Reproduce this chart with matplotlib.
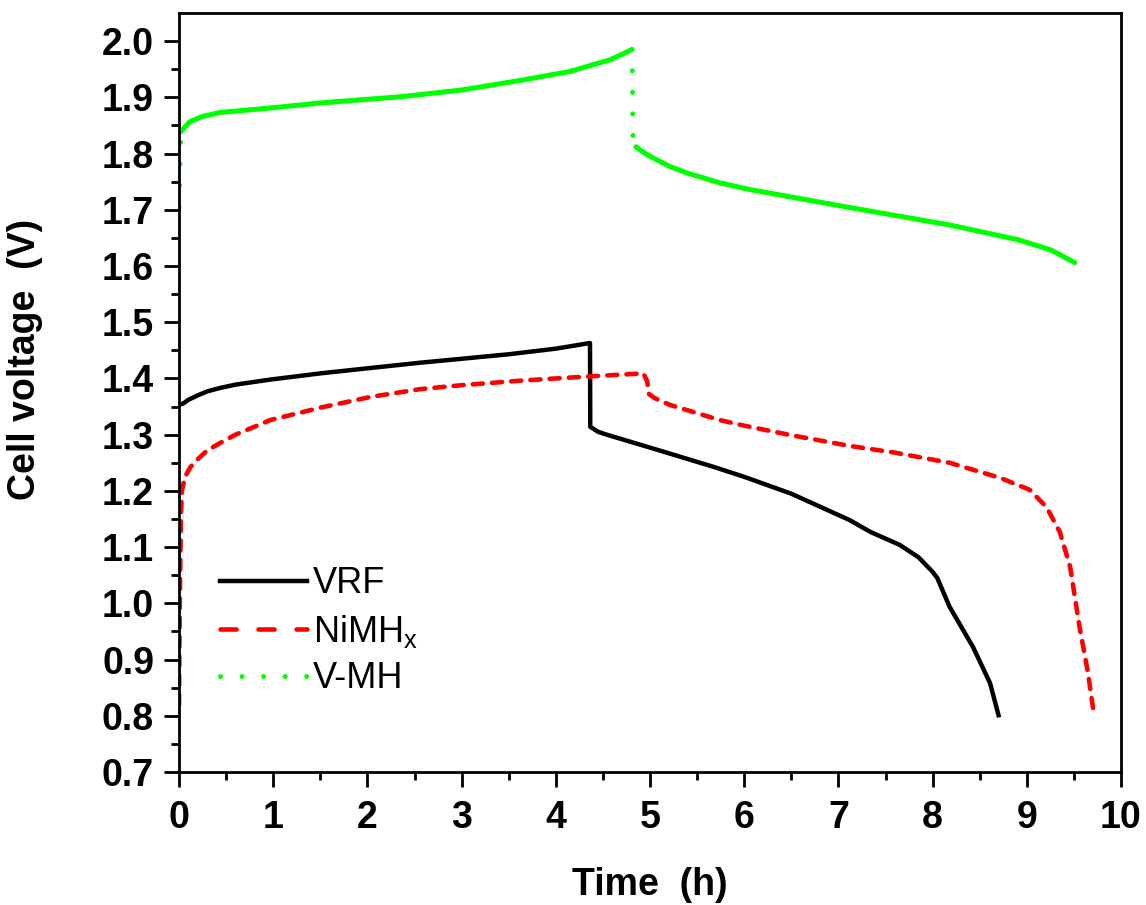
import matplotlib
matplotlib.use("Agg")
import matplotlib.pyplot as plt
from matplotlib.lines import Line2D
import numpy as np

plt.rcParams['font.family'] = ['Liberation Sans', 'DejaVu Sans']
plt.rcParams['mathtext.fontset'] = 'custom'
plt.rcParams['mathtext.rm'] = 'Liberation Sans'

# ---- data (time in h, voltage in V) ----
vrf_t = [0, 0.05, 0.1, 0.2, 0.3, 0.435, 0.6, 0.97, 1.5, 2.0, 2.56, 3.0, 3.5,
         4.0, 4.363, 4.366, 4.45, 4.54, 5.0, 5.67, 6.0, 6.5, 7.12, 7.34, 7.65,
         7.85, 8.0, 8.05, 8.18, 8.43, 8.61, 8.70]
vrf_v = [1.353, 1.356, 1.362, 1.370, 1.377, 1.383, 1.389, 1.398, 1.409, 1.418,
         1.428, 1.435, 1.443, 1.453, 1.463, 1.314, 1.305, 1.300, 1.277, 1.243,
         1.225, 1.195, 1.148, 1.127, 1.104, 1.082, 1.056, 1.045, 0.994, 0.922,
         0.858, 0.801]

nimh_t = [0, 0.008, 0.02, 0.03, 0.064, 0.12, 0.19, 0.3, 0.435, 0.6, 0.97, 1.5,
          2.03, 2.56, 3.0, 3.62, 4.0, 4.5, 4.93, 4.97, 4.99, 5.05, 5.21, 5.74,
          6.0, 6.5, 7.12, 7.6, 8.18, 8.72, 9.03, 9.21, 9.35, 9.46, 9.56, 9.65,
          9.71]
nimh_v = [0.82, 1.0, 1.15, 1.20, 1.225, 1.242, 1.255, 1.272, 1.285, 1.300,
          1.326, 1.348, 1.367, 1.381, 1.388, 1.396, 1.400, 1.405, 1.409, 1.395,
          1.372, 1.365, 1.353, 1.326, 1.316, 1.299, 1.280, 1.268, 1.250, 1.223,
          1.202, 1.171, 1.127, 1.065, 0.958, 0.876, 0.805]

vmh_t = [0, 0.02, 0.117, 0.25, 0.435, 0.97, 1.5, 2.35, 3.0, 3.62, 4.15, 4.58,
         4.81, 4.82, 4.85, 4.89, 5.0, 5.21, 5.4, 5.74, 6.06, 7.12, 8.18, 8.9,
         9.25, 9.51]
vmh_v = [1.705, 1.839, 1.857, 1.866, 1.873, 1.881, 1.890, 1.901, 1.913, 1.930,
         1.946, 1.967, 1.985, 1.820, 1.812, 1.807, 1.795, 1.777, 1.765, 1.748,
         1.736, 1.704, 1.673, 1.647, 1.629, 1.606]
vmh_charge_end = 12   # index of last point before the voltage jump

labels = ['VRF', r'NiMH$_\mathregular{x}$', 'V-MH']
xticks = np.arange(0, 11, 1)
yticks = np.round(np.arange(0.7, 2.01, 0.1), 1)

fig = plt.figure(figsize=(11.46, 9.05), dpi=100)
ax = fig.add_axes([179/1146, 1-772/905, (1121-179)/1146, (772-13)/905])

black_lw = 3.2
ax.plot(vrf_t, vrf_v, color='black', lw=black_lw, solid_joinstyle='round')
ax.plot(nimh_t, nimh_v, color='#ff0000', lw=3.3, dashes=(2.2, 2.0),
        dash_capstyle='round')
g = '#00ff00'
ax.plot(vmh_t, vmh_v, color=g, lw=3.6, dashes=(0.01, 4.3), dash_capstyle='round')
ax.plot(vmh_t[1:vmh_charge_end + 1], vmh_v[1:vmh_charge_end + 1], color=g, lw=3.6,
        solid_capstyle='round')
ax.plot(vmh_t[vmh_charge_end + 2:], vmh_v[vmh_charge_end + 2:], color=g, lw=3.6,
        solid_capstyle='round')

ax.set_xlim(0, 10)
ax.set_ylim(0.7, 2.05)
ax.set_xticks(xticks)
ax.set_yticks(yticks)
ax.set_xticks(np.arange(0.5, 10, 1), minor=True)
ax.set_yticks(np.arange(0.75, 2.05, 0.1), minor=True)
ax.set_xticklabels([str(v) for v in xticks])
ax.set_yticklabels([f'{v:.1f}' for v in yticks])

for s in ax.spines.values():
    s.set_linewidth(2.0)
ax.tick_params(which='major', direction='out', length=11, width=2.0, pad=7,
               labelsize=27, top=False, right=False)
ax.tick_params(which='minor', direction='out', length=5.5, width=2.0,
               top=False, right=False)
ax.tick_params(axis='x', which='major', pad=9)
for lab in ax.get_xticklabels() + ax.get_yticklabels():
    lab.set_fontweight('bold')

ax.set_xlabel('Time  (h)', fontsize=27, fontweight='bold')
ax.set_ylabel('Cell voltage  (V)', fontsize=27, fontweight='bold')
ax.xaxis.set_label_coords(0.5, -0.125)
ax.yaxis.set_label_coords(-0.144, 0.543)

handles = [
    Line2D([], [], color='black', lw=black_lw),
    Line2D([], [], color='#ff0000', lw=3.3, dashes=(3.5, 4.8), dash_capstyle='round'),
    Line2D([], [], color=g, lw=3.6, dashes=(0.01, 4.3), dash_capstyle='round'),
]
ax.legend(handles, labels, loc='upper left', bbox_to_anchor=(0.044, 0.271),
          frameon=False, fontsize=26, handlelength=2.4, handletextpad=0.15,
          labelspacing=0.32, borderpad=0, borderaxespad=0)

fig.savefig('out.png', dpi=100, facecolor='white')
